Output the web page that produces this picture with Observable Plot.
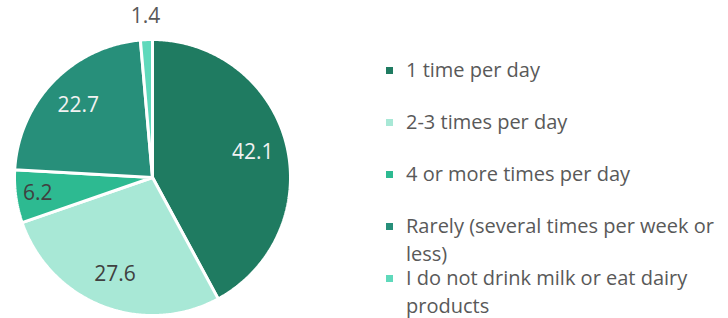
<!DOCTYPE html>
<html><head><meta charset="utf-8">
<script src="https://cdn.jsdelivr.net/npm/d3@7"></script>
<script src="https://cdn.jsdelivr.net/npm/@observablehq/plot@0.6"></script>
<style>
body{margin:0;background:#fff;font-family:"Open Sans",sans-serif}
#wrap{position:relative;width:728px;height:318px;overflow:hidden}
#legend{position:absolute;left:386px;top:0;width:342px;height:318px}
.item{position:absolute;left:0;display:flex;align-items:flex-start;color:#595959;font-size:20px;line-height:28px;width:342px}
.sw{width:7px;height:7px;flex:none;margin-top:11px;margin-right:13px}
.tx{width:324px}
</style></head><body><div id="wrap"><div id="legend"></div></div>
<script>
const categories = ["1 time per day","2-3 times per day","4 or more times per day","Rarely (several times per week or less)","I do not drink milk or eat dairy products"];
const values = [42.1, 27.6, 6.2, 22.7, 1.4];
const colors = ["#1f7b61","#a8e8d6","#2dba91","#278f7a","#5fd9bb"];
const labelColors = ["#f2f2f2","#404040","#404040","#f2f2f2","#595959"];

const arcs = d3.pie().sort(null).value(d => d)(values);
const poly = [];
arcs.forEach((p, i) => {
  const cat = categories[i];
  const n = Math.max(2, Math.ceil((p.endAngle - p.startAngle) / 0.01));
  poly.push({cat, x: 0, y: 0});
  for (let k = 0; k <= n; k++) {
    const a = p.startAngle + (p.endAngle - p.startAngle) * k / n;
    poly.push({cat, x: Math.sin(a), y: Math.cos(a)});
  }
  poly.push({cat, x: 0, y: 0});
});
const labels = arcs.map((p, i) => {
  const m = (p.startAngle + p.endAngle) / 2;
  const r = values[i] < 2 ? 1.17 : values[i] < 10 ? 0.84 : 0.75;
  return {x: r * Math.sin(m), y: r * Math.cos(m), t: values[i].toFixed(1), c: labelColors[i]};
});

const cx = 152, cy = 177, R = 138;
const chart = Plot.plot({
  width: 728, height: 318, margin: 0,
  x: {domain: [-1, 1], range: [cx - R, cx + R], axis: null},
  y: {domain: [-1, 1], range: [cy + R, cy - R], axis: null},
  color: {domain: categories, range: colors},
  style: {fontFamily: "'Open Sans', sans-serif", background: "#fff"},
  marks: [
    Plot.line(poly, {x: "x", y: "y", z: "cat", fill: "cat", stroke: "white", strokeWidth: 3, strokeLinejoin: "miter"}),
    Plot.text(labels, {x: "x", y: "y", text: "t", fill: d => d.c, fontSize: 21})
  ]
});
const wrap = document.getElementById("wrap");
wrap.insertBefore(chart, wrap.firstChild);

const legend = document.getElementById("legend");
categories.forEach((c, i) => {
  const it = document.createElement("div");
  it.className = "item";
  it.style.top = (56 + 52 * i) + "px";
  const sw = document.createElement("div");
  sw.className = "sw"; sw.style.background = colors[i];
  const tx = document.createElement("div");
  tx.className = "tx";
  tx.textContent = c;
  it.appendChild(sw); it.appendChild(tx);
  legend.appendChild(it);
});
</script></body></html>
